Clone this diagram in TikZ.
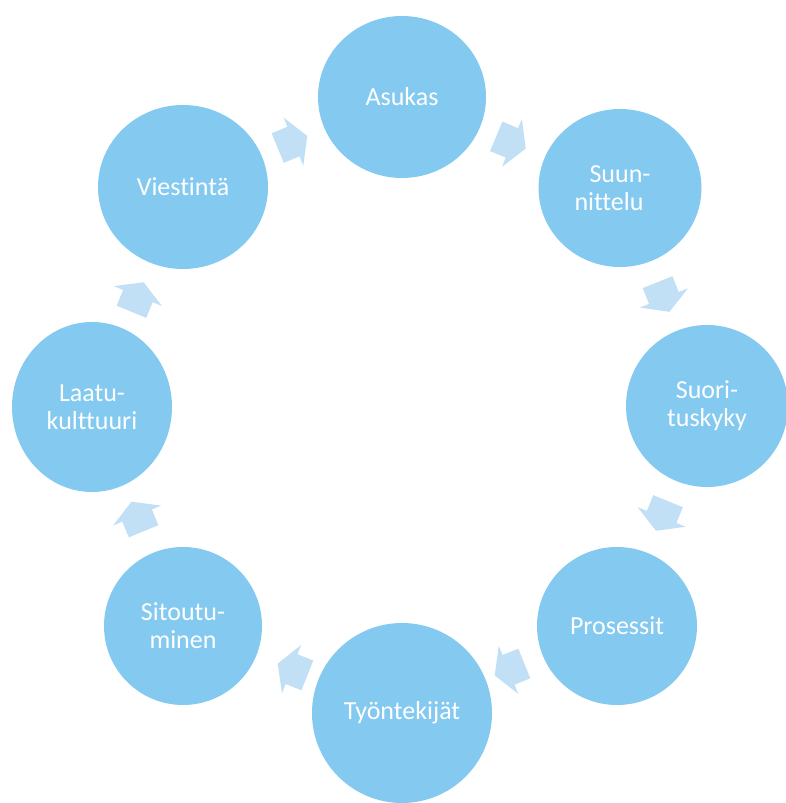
\documentclass[tikz,border=0pt]{standalone}
\usepackage{fontspec}
\setmainfont{Carlito}[Ligatures=NoCommon]
\usetikzlibrary{calc, shapes.geometric}
\definecolor{ringblue}{RGB}{131,201,240}
\definecolor{arrowblue}{RGB}{194,224,245}

\begin{document}
\begin{tikzpicture}
        [
          x=1pt, y=1pt,
          stage/.style={ellipse, fill=ringblue, inner sep=0pt, text=white,
            align=center, font=\fontsize{26}{28}\selectfont},
          cyc/.style={fill=arrowblue}
        ]
        \useasboundingbox (0,0) rectangle (786,803);
        % stages
        \node [stage, minimum width=168, minimum height=162] (asukas) at (402,706) {Asukas};
        \node [stage, minimum width=163, minimum height=158] (suunnittelu) at (620,615) {Suun-\\nittelu\hspace*{22pt}};
        \node [stage, minimum width=162, minimum height=162] (suorituskyky) at (707,397) {Suori-\\tuskyky};
        \node [stage, minimum width=160, minimum height=158] (prosessit) at (617,177) {Prosessit};
        \node [stage, minimum width=180, minimum height=180] (tyontekijat) at (402,90) {Työntekijät};
        \node [stage, minimum width=158, minimum height=158] (sitoutuminen) at (183,177) {Sitoutu-\\minen};
        \node [stage, minimum width=160, minimum height=170] (laatukulttuuri) at (92,396) {Laatu-\\kulttuuri};
        \node [stage, minimum width=170, minimum height=164] (viestinta) at (183,616) {Viestintä};
        % cycle arrows
        \foreach \a/\b in {viestinta/asukas, asukas/suunnittelu, suunnittelu/suorituskyky,
                           suorituskyky/prosessit, prosessit/tyontekijat, tyontekijat/sitoutuminen,
                           sitoutuminen/laatukulttuuri, laatukulttuuri/viestinta} {
            \path let \p1 = ($(\b)-(\a)$) in
              \pgfextra{\pgfmathsetmacro\ang{atan2(\y1,\x1)}\xdef\cycang{\ang}};
            \begin{scope}[shift={($(\a)!0.5!(\b)$)}, rotate=\cycang]
              \fill [cyc] (-16,-16) -- (1,-16) -- (1,-26) -- (16,0) -- (1,26) -- (1,16) -- (-16,16) -- cycle;
            \end{scope}
        }
      \end{tikzpicture}
\end{document}
